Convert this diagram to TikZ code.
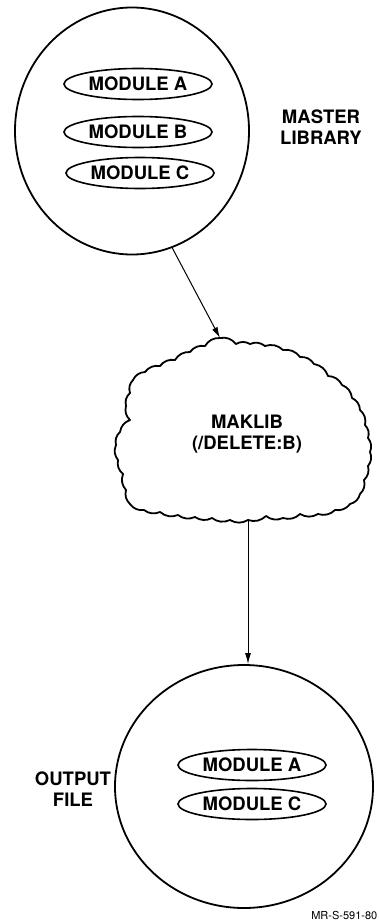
\documentclass[tikz,border=0pt]{standalone}
\usepackage{fontspec}
\setmainfont{TeX Gyre Heros}
\usetikzlibrary{shapes.geometric,arrows.meta}
\begin{document}
\begin{tikzpicture}[x=1pt,y=-1pt,
  bigcirc/.style={draw,ellipse,line width=1.8pt,inner sep=0pt},
  modbox/.style={draw,ellipse,line width=1.6pt,inner sep=0pt,minimum width=148pt,minimum height=31pt,
    font=\fontsize{18.5}{21}\selectfont\bfseries},
  lbl/.style={align=center,font=\fontsize{18.5}{21}\selectfont\bfseries},
  conn/.style={line width=1pt,-{Latex[length=11pt,width=6pt]}},
  cloudline/.style={line width=1.8pt,line join=round}]
\useasboundingbox (0,0) rectangle (378,923);
% master library
\node[bigcirc,minimum width=234pt,minimum height=247pt] (master) at (132,131) {};
\node[modbox] (ma) at (138,84) {MODULE A};
\node[modbox] (mb) at (138,132) {MODULE B};
\node[modbox] (mc) at (140,173) {MODULE C};
\node[lbl] (mlbl) at (321,127) {MASTER\\LIBRARY};
% cloud
\draw[cloudline,bend left=30] (220,338) to (236,344) to (250,344) to (265,346) to (283,350)
  to (300,357) to (314,364) to (328,376) to (342,385) to (352,398) to (360,410)
  to (365,425) to (368,438) to (370,452) to (368,466) to (364,480) to (360,494)
  to (350,504) to (335,510) to (318,514) to (300,514) to (283,518) to (266,516)
  to (248,520) to (230,520) to (212,518) to (195,517) to (178,515) to (160,512)
  to (144,510) to (130,504) to (126,490) to (123,474) to (118,460) to (116,445)
  to (120,432) to (130,420) to (126,406) to (130,393) to (133,380) to (145,372)
  to (160,366) to (175,360) to (190,352) to (205,346) to (220,338);
\coordinate (cloudtop) at (220,338);
\coordinate (cloudbot) at (248,520);
\node[lbl] (maklib) at (247,434) {MAKLIB\\(/DELETE:B)};
% output file
\node[bigcirc,minimum width=258pt,minimum height=243pt] (out) at (244,786.5) {};
\node[modbox] (oa) at (252,765) {MODULE A};
\node[modbox] (oc) at (252,804) {MODULE C};
\node[lbl] (olbl) at (73,789) {OUTPUT\\FILE};
\node[anchor=east,font=\fontsize{11}{13}\selectfont,inner sep=0pt] (ref) at (377.5,915) {MR-S-591-80};
% connectors
\draw[conn] (master.-71) -- (cloudtop);
\draw[conn] (cloudbot) -- (cloudbot |- out.north);
\end{tikzpicture}
\end{document}
